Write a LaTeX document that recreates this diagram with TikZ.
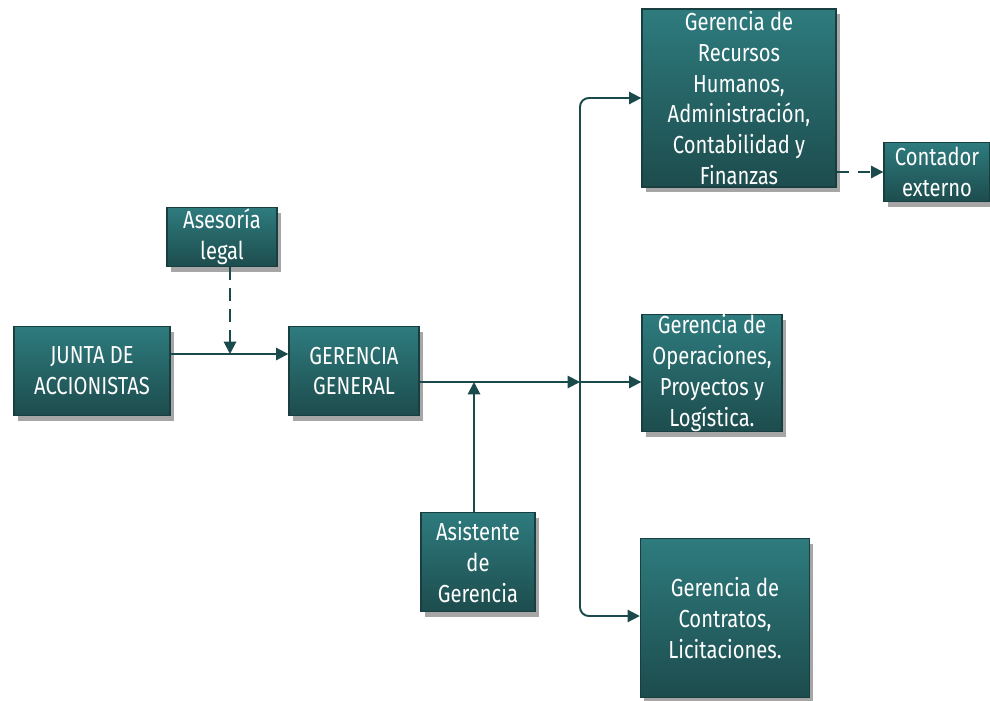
\documentclass[tikz,border=0pt]{standalone}
\usepackage{fontspec}
\setmainfont{Fira Sans}[FakeStretch=0.82]
\usetikzlibrary{shadows,arrows.meta}
\definecolor{boxtop}{HTML}{2E7B7E}
\definecolor{boxbot}{HTML}{1D4C4D}
\definecolor{boxline}{HTML}{183E3F}
\definecolor{conn}{HTML}{1A4A4B}
\tikzset{
  orgbox/.style={draw=boxline, line width=0.8pt, top color=boxtop, bottom color=boxbot,
    text=white, align=center, inner sep=0pt, font=\fontsize{14}{17.5}\selectfont,
    drop shadow={shadow xshift=2pt, shadow yshift=-3pt, opacity=0.35, fill=black}},
  link/.style={draw=conn, line width=1.1pt, -{Triangle[length=7pt,width=7pt]}},
  dlink/.style={link, dash pattern=on 7pt off 5pt}
}
\begin{document}
\begin{tikzpicture}[x=0.02cm,y=-0.02cm]
\useasboundingbox (0,0) rectangle (990,700);
\node[orgbox, minimum width=156\pgflinewidth, minimum width=3.12cm, minimum height=1.78cm] (junta) at (92,371) {JUNTA DE\\ACCIONISTAS};
\node[orgbox, minimum width=2.2cm, minimum height=1.18cm] (legal) at (222,237) {Asesoría\\legal};
\node[orgbox, minimum width=2.6cm, minimum height=1.78cm] (gg) at (354,371) {GERENCIA\\GENERAL};
\node[orgbox, minimum width=2.28cm, minimum height=1.98cm] (asist) at (478,562) {Asistente\\de\\Gerencia};
\node[orgbox, minimum width=3.88cm, minimum height=3.56cm] (rrhh) at (739,98) {Gerencia de\\Recursos\\Humanos,\\Administración,\\Contabilidad y\\Finanzas};
\node[orgbox, minimum width=2.12cm, minimum height=1.18cm] (cont) at (937,172) {Contador\\externo};
\node[orgbox, minimum width=2.8cm, minimum height=2.34cm] (ops) at (712,373) {Gerencia de\\Operaciones,\\Proyectos y\\Logística.};
\node[orgbox, minimum width=3.38cm, minimum height=3.18cm] (lic) at (725,618) {Gerencia de\\Contratos,\\Licitaciones.};

\coordinate (jg) at (230,354);
\coordinate (hub) at (580,382);
\coordinate (ast) at (474,382);

\draw[link] (junta.east |- jg) -- (gg.west |- jg);
\draw[dlink] (legal.south -| jg) -- (jg);
\draw[link] (gg.east |- hub) -- (hub);
\draw[link] (asist.north -| ast) -- (ast);
\draw[link] (hub) -- (ops.west |- hub);
\draw[link, rounded corners=5pt] (hub) -- (hub |- rrhh.west) -- (rrhh.west);
\draw[link, rounded corners=5pt] (hub) -- (580,616) -- (lic.west |- 0,616);
\draw[dlink] (rrhh.east |- cont.west) -- (cont.west);
\end{tikzpicture}
\end{document}
